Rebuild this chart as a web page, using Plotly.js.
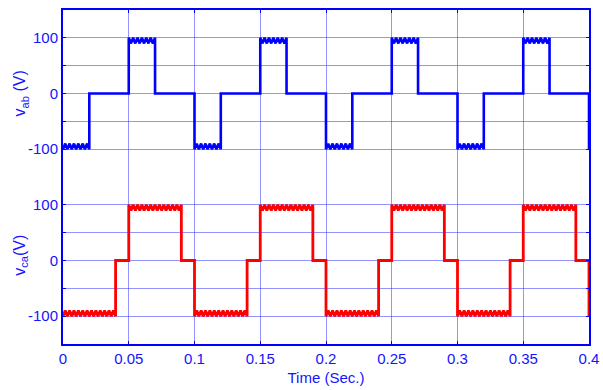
<!DOCTYPE html>
<html>
<head>
<meta charset="utf-8">
<script src="https://cdn.plot.ly/plotly-3.0.1.min.js"></script>
<style>html,body{margin:0;padding:0;background:#fff;}#chart{width:603px;height:390px;}</style>
</head>
<body>
<div id="chart"></div>
<script>
// Step waveform corners: segment i runs from times[i] to times[i+1] at levels[i]
var abTimes  = [0, 0.02, 0.05, 0.07, 0.1, 0.12, 0.15, 0.17, 0.2, 0.22, 0.25, 0.27, 0.3, 0.32, 0.35, 0.37, 0.4, 0.4];
var abLevels = [-100, 0, 100, 0, -100, 0, 100, 0, -100, 0, 100, 0, -100, 0, 100, 0, -100];
var caTimes  = [0, 0.04, 0.05, 0.09, 0.1, 0.14, 0.15, 0.19, 0.2, 0.24, 0.25, 0.29, 0.3, 0.34, 0.35, 0.39, 0.4, 0.4];
var caLevels = [-100, 0, 100, 0, -100, 0, 100, 0, -100, 0, 100, 0, -100, 0, 100, 0, -100];
// Ripple tooth seen on the +/-100 plateaus (phase within one tooth, dip toward zero)
var ripplePeriod = 0.00333;
var toothPhase = [0, 0.0017];
var toothDip   = [0, 10];
// Axis ticks
var xTicks = [0, 0.05, 0.1, 0.15, 0.2, 0.25, 0.3, 0.35, 0.4];
var xTickText = ["0", "0.05", "0.1", "0.15", "0.2", "0.25", "0.3", "0.35", "0.4"];
var yTicks = [-100, 0, 100];
var yTickText = ["-100", "0", "100"];
var yMinorTicks = [-150, -50, 50, 150];

function build(times, levels) {
  var x = [], y = [];
  for (var i = 0; i < levels.length; i++) {
    var t0 = times[i], t1 = times[i + 1], L = levels[i];
    x.push(t0); y.push(L);
    if (L !== 0 && t1 - t0 > 0.001) {
      var s = Math.sign(L);
      for (var k = 0; t0 + k * ripplePeriod < t1 - 0.0005; k++) {
        for (var j = 0; j < toothPhase.length; j++) {
          var tt = t0 + k * ripplePeriod + toothPhase[j];
          if (tt < t1) { x.push(tt); y.push(L - s * toothDip[j]); }
        }
      }
    }
    x.push(t1); y.push(L);
  }
  return {x: x, y: y};
}

var ab = build(abTimes, abLevels);
var ca = build(caTimes, caLevels);

var blue = '#0000ff';
var grid = 'rgba(60,60,255,0.55)';
var tf = {family: 'Liberation Sans, Arial, sans-serif', size: 15, color: '#1414ff'};
var titleFont = {family: 'Liberation Sans, Arial, sans-serif', size: 16, color: '#1414ff'};

var traces = [
  {x: ab.x, y: ab.y, xaxis: 'x', yaxis: 'y', mode: 'lines', line: {color: '#0000ff', width: 2.6}, hoverinfo: 'skip'},
  {x: ca.x, y: ca.y, xaxis: 'x2', yaxis: 'y2', mode: 'lines', line: {color: '#ff0000', width: 2.8}, hoverinfo: 'skip'}
];

var xBase = {range: [0, 0.4], tickmode: 'array', tickvals: xTicks, ticktext: xTickText, showgrid: true, gridcolor: grid, gridwidth: 1,
  zeroline: false, showline: true, linecolor: blue, linewidth: 2, ticks: 'inside', ticklen: 3, tickcolor: blue, tickfont: tf};
var yBase = {range: [-150, 150], tickmode: 'array', tickvals: yTicks, ticktext: yTickText, showgrid: true, gridcolor: grid, gridwidth: 1,
  zeroline: false, showline: true, linecolor: blue, linewidth: 2, mirror: 'ticks', ticks: 'inside', ticklen: 3, tickcolor: blue, tickfont: tf,
  minor: {tickmode: 'array', tickvals: yMinorTicks, showgrid: true, gridcolor: grid, gridwidth: 1, ticks: 'inside', ticklen: 3, tickcolor: blue}};

var layout = {
  width: 603, height: 390,
  margin: {l: 63, r: 14, t: 10, b: 46},
  paper_bgcolor: '#ffffff', plot_bgcolor: '#ffffff',
  showlegend: false,
  xaxis: Object.assign({}, xBase, {anchor: 'y', side: 'top', showticklabels: false, domain: [0, 1]}),
  yaxis: Object.assign({}, yBase, {anchor: 'x', domain: [0.5, 1]}),
  xaxis2: Object.assign({}, xBase, {anchor: 'y2', side: 'bottom', domain: [0, 1],
    title: {text: 'Time (Sec.)', font: tf, standoff: 6}}),
  yaxis2: Object.assign({}, yBase, {anchor: 'x2', domain: [0, 0.5]}),
  annotations: [
    {text: 'v<sub>ab</sub> (V)', xref: 'paper', yref: 'y', x: -0.08, y: 0, xanchor: 'center', yanchor: 'middle',
     textangle: -90, showarrow: false, font: titleFont},
    {text: 'v<sub>ca</sub>(V)', xref: 'paper', yref: 'y2', x: -0.08, y: 10, xanchor: 'center', yanchor: 'middle',
     textangle: -90, showarrow: false, font: titleFont}
  ]
};

Plotly.newPlot('chart', traces, layout, {staticPlot: true, displayModeBar: false});
</script>
</body>
</html>
